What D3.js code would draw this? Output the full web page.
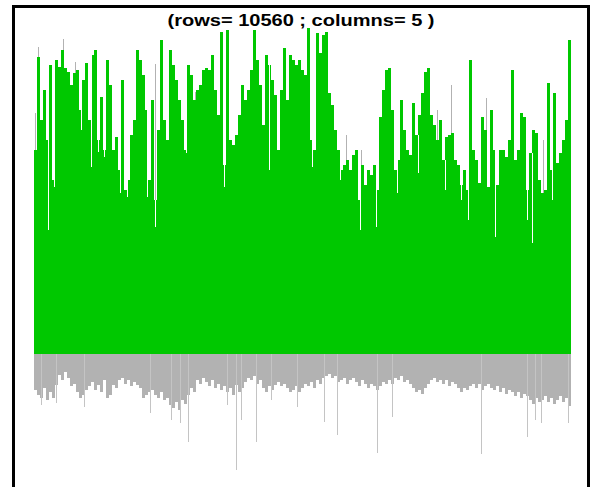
<!DOCTYPE html>
<html>
<head>
<meta charset="utf-8">
<script src="https://cdn.jsdelivr.net/npm/d3@7/dist/d3.min.js"></script>
<style>
  html, body { margin: 0; padding: 0; background: #fff; }
  svg { display: block; }
</style>
</head>
<body>
<svg id="chart" width="592" height="487"></svg>
<script>
// ---- data ----
const titleText = "(rows= 10560 ; columns= 5 )";
const nRows = 10560;

// green series: peak value in each consecutive block of rows (179 blocks)
const greenPeaks = [
  204,297,234,264,214,289,174,294,287,304,
  286,282,269,281,284,244,274,291,234,299,
  304,214,257,204,294,269,204,217,184,274,
  164,174,219,234,304,294,279,244,174,254,
  154,224,314,234,214,304,289,274,254,234,
  204,289,279,254,264,269,284,286,284,299,
  264,239,322,189,324,214,209,219,239,269,
  254,264,284,324,294,269,229,299,289,274,
  259,204,264,306,254,299,294,289,294,284,
  279,326,214,204,321,301,319,322,261,249,
  224,204,184,189,194,184,199,204,154,189,
  169,184,179,189,164,237,264,284,286,244,
  184,194,254,224,204,199,251,219,239,261,
  282,286,239,229,214,234,194,217,219,221,
  194,189,169,184,164,294,204,194,171,237,
  224,167,244,204,169,204,204,197,214,284,
  194,204,241,237,164,201,224,221,174,161,
  164,271,184,261,191,201,214,234,314
];

// green rows that fall well below their block's peak: [row, value]
const greenLowRows = [
  [275,124],[393,167],[924,224],[1121,187],[1259,202],[1377,197],
  [1691,161],[1829,157],[2222,157],[2380,127],[2989,201],[3736,167],
  [3894,211],[4621,184],[4798,204],[5467,187],[6017,174],[6411,124],
  [6726,127],[7139,161],[7551,181],[8082,164],[8397,154],[8535,134],
  [9066,117],[9695,134],[9793,111],[10186,154]
];

// gray series: lowest value in each block of rows (same 179 blocks)
const grayLows = [
  -36,-41,-44,-34,-46,-38,-44,-31,-21,-26,
  -18,-24,-32,-30,-38,-44,-41,-36,-32,-28,
  -36,-31,-38,-26,-44,-41,-31,-34,-26,-24,
  -30,-26,-32,-28,-31,-34,-44,-41,-38,-36,
  -41,-44,-38,-46,-44,-51,-54,-48,-56,-46,
  -50,-41,-34,-38,-26,-30,-24,-28,-32,-26,
  -34,-30,-36,-32,-38,-34,-41,-31,-38,-34,
  -28,-24,-26,-22,-30,-26,-34,-38,-32,-36,
  -31,-28,-32,-30,-34,-38,-36,-32,-38,-34,
  -30,-32,-28,-34,-26,-30,-24,-22,-20,-24,
  -22,-28,-26,-24,-30,-26,-24,-28,-32,-26,
  -30,-34,-30,-32,-36,-32,-28,-30,-26,-30,
  -24,-26,-22,-28,-26,-30,-34,-38,-36,-40,
  -34,-30,-26,-24,-28,-26,-30,-26,-32,-28,
  -30,-34,-38,-34,-36,-32,-30,-34,-30,-36,
  -32,-30,-34,-36,-32,-38,-34,-40,-36,-38,
  -42,-38,-44,-40,-42,-46,-50,-44,-48,-46,
  -42,-48,-44,-50,-46,-42,-48,-44,-52
];

// isolated deep gray rows: [row, value]
const grayDeepRows = [
  [138,-51],[433,-49],[983,-53],[2281,-59],[2694,-66],[2871,-69],
  [3028,-88],[3795,-51],[3972,-116],[4071,-66],[4366,-88],[4661,-46],
  [5172,-53],[5703,-68],[5958,-81],[6745,-99],[7040,-63],[8790,-100],
  [9695,-83],[9852,-66],[9970,-69],[10501,-69]
];

// gray rows rising above the green: [row, value]
const grayHighRows = [
  [20,241],[79,307],[570,315],[806,292],[1180,280],[1750,262],
  [2380,290],[3160,262],[4280,232],[5310,232],[6130,219],[6440,204],
  [7020,234],[7920,244],[8210,269],[8880,256],[9560,241],[10010,214]
];

// ---- layout ----
const svg = d3.select("#chart");
const plot = { left: 34, right: 571, zeroY: 354 };

const x = d3.scaleLinear().domain([0, nRows]).range([plot.left, plot.right]);
const y = d3.scaleLinear().domain([-130, 330]).range([plot.zeroY + 130, plot.zeroY - 330]);

const blockRows = nRows / greenPeaks.length;
const green = "#00c800";
const gray = "#b2b2b2";
const lightGray = "#c4c4c4";

// frame
svg.append("rect")
  .attr("x", 13.5).attr("y", 6.5)
  .attr("width", 575).attr("height", 520)
  .attr("fill", "none").attr("stroke", "#000").attr("stroke-width", 3);

const g = svg.append("g").attr("shape-rendering", "crispEdges");

// gray below baseline (blocks)
g.selectAll("rect.grayLow").data(grayLows).join("rect")
  .attr("class", "grayLow")
  .attr("x", (d, i) => x(i * blockRows))
  .attr("width", (d, i) => x((i + 1) * blockRows) - x(i * blockRows))
  .attr("y", y(2))
  .attr("height", d => y(d) - y(2))
  .attr("fill", gray);

// deep gray rows
g.selectAll("line.grayDeep").data(grayDeepRows).join("line")
  .attr("class", "grayDeep")
  .attr("x1", d => Math.round(x(d[0])) + 0.5).attr("x2", d => Math.round(x(d[0])) + 0.5)
  .attr("y1", y(0)).attr("y2", d => y(d[1]))
  .attr("stroke", lightGray).attr("stroke-width", 1);

// gray rows above green
g.selectAll("line.grayHigh").data(grayHighRows).join("line")
  .attr("class", "grayHigh")
  .attr("x1", d => Math.round(x(d[0])) + 0.5).attr("x2", d => Math.round(x(d[0])) + 0.5)
  .attr("y1", y(0)).attr("y2", d => y(d[1]))
  .attr("stroke", gray).attr("stroke-width", 1);

// green blocks
g.selectAll("rect.green").data(greenPeaks).join("rect")
  .attr("class", "green")
  .attr("x", (d, i) => x(i * blockRows))
  .attr("width", (d, i) => x((i + 1) * blockRows) - x(i * blockRows))
  .attr("y", d => y(d))
  .attr("height", d => y(0) - y(d))
  .attr("fill", green);

// green low rows: clear the part of the block above the row's value
g.selectAll("line.greenLow").data(greenLowRows).join("line")
  .attr("class", "greenLow")
  .attr("x1", d => Math.round(x(d[0])) + 0.5).attr("x2", d => Math.round(x(d[0])) + 0.5)
  .attr("y1", d => y(greenPeaks[Math.min(greenPeaks.length - 1, Math.floor(d[0] / blockRows))]))
  .attr("y2", d => y(d[1]))
  .attr("stroke", "#fff").attr("stroke-width", 1);

// title
svg.append("text")
  .attr("x", 301).attr("y", 26)
  .attr("text-anchor", "middle")
  .attr("font-family", "Liberation Sans, Arial, sans-serif")
  .attr("font-weight", "bold")
  .attr("font-size", 16)
  .attr("textLength", 267)
  .attr("lengthAdjust", "spacingAndGlyphs")
  .attr("fill", "#000")
  .text(titleText);
</script>
</body>
</html>
